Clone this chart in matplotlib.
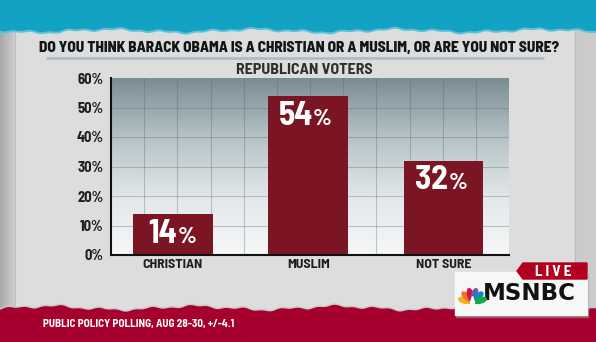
import numpy as np
import matplotlib
matplotlib.use("Agg")
import matplotlib.pyplot as plt
import matplotlib.patches as mpatches
from matplotlib.colors import LinearSegmentedColormap

# Data
categories = ["CHRISTIAN", "MUSLIM", "NOT SURE"]
shares = [14, 54, 32]
y_ticks = [0, 10, 20, 30, 40, 50, 60]

title = "DO YOU THINK BARACK OBAMA IS A CHRISTIAN OR A MUSLIM, OR ARE YOU NOT SURE?"
subtitle = "REPUBLICAN VOTERS"
source = "PUBLIC POLICY POLLING, AUG 28-30, +/-4.1"

COND = ["Barlow Semi Condensed", "Roboto Condensed", "Archivo Narrow", "PT Sans Narrow", "DejaVu Sans"]
W, H = 596, 342

fig = plt.figure(figsize=(W / 100, H / 100), dpi=100)
fig.patch.set_facecolor("#d4d4d4")

# background layer in pixel coordinates
bg = fig.add_axes([0, 0, 1, 1], zorder=0)
bg.set_xlim(0, W)
bg.set_ylim(H, 0)
bg.axis("off")

# side strips and panel
side = np.linspace(0, 1, 64)[None, :]
bg.imshow(side, extent=(0, 15, H, 0), cmap=LinearSegmentedColormap.from_list("s", ["#a9a9a9", "#cdcdcd"]),
          aspect="auto", zorder=0)
bg.add_patch(mpatches.Rectangle((15, 0), 560, H, color="#dddddd", zorder=1))
bg.add_patch(mpatches.Rectangle((575, 0), 21, H, color="#cbcbcb", zorder=1))
bg.plot([15, 15], [0, H], color="#bdbdbd", lw=0.8, zorder=2)
bg.plot([575, 575], [0, H], color="#bdbdbd", lw=0.8, zorder=2)


def torn(x, base, amp):
    # ragged paper edge
    return (base + amp * (0.5 * np.sin(x / 23.0) + 0.3 * np.sin(x / 7.3 + 1.1)
                          + 0.2 * np.sin(x / 2.9 + 0.4)))


xs = np.linspace(0, W, 400)

# top teal band
top_edge = torn(xs, 29, 3.0)
bg.fill_between(xs, 0, top_edge + 2, color="#5fc0d8", zorder=3)
bg.fill_between(xs, 0, top_edge, color="#12a2c3", zorder=3)

# bottom crimson band
bot_edge = torn(xs + 60, 309, 3.5)
bg.fill_between(xs, bot_edge - 1.5, H, color="#c9c9c9", zorder=3)
bg.fill_between(xs, bot_edge, H, color="#a6002f", zorder=3)

# title, rule and subtitle
bg.text(299, 48, title, family=COND, weight="heavy", fontsize=11.0,
        color="#151515", ha="center", va="center", zorder=5)
bg.plot([46, 544], [58, 58], color="#a9bac6", lw=1.8, zorder=5, solid_capstyle="butt")
bg.text(304, 70, subtitle, family=COND, weight="bold", fontsize=11.5,
        color="#2e2e2e", ha="center", va="center", zorder=5)
bg.text(43, 324.5, source, family=COND, weight="bold", fontsize=8,
        color="white", ha="left", va="center", zorder=5)

# chart
left, right, top, bottom = 111, 509, 78, 255
ax = fig.add_axes([left / W, (H - bottom) / H, (right - left) / W, (bottom - top) / H], zorder=1)
ax.set_facecolor("none")
x = np.arange(len(categories))
xlim = (-0.458, 2.484)
ax.set_xlim(*xlim)
ax.set_ylim(0, 60)

grad = np.linspace(1, 0, 256)[:, None]
cmap = LinearSegmentedColormap.from_list("g", ["#f6f7f8", "#e2e7e9", "#b5c2c6", "#7a8d94"])
ax.imshow(grad, extent=(xlim[0], xlim[1], 0, 60), aspect="auto", cmap=cmap, zorder=0)

for gx in np.linspace(xlim[0], xlim[1], 13)[1:-1]:
    ax.axvline(gx, color="#52666d", alpha=0.33, lw=0.8, zorder=1)
for gy in y_ticks[1:-1]:
    ax.axhline(gy, color="#52666d", alpha=0.33, lw=0.8, zorder=1)

ax.bar(x, shares, width=0.59, color="#7b1523", zorder=2)

for xi, v in zip(x, shares):
    ax.annotate(f"{v}", (xi, v), xytext=(3.2, -20.8), textcoords="offset points",
                ha="right", va="baseline", family=COND, weight="bold",
                fontsize=24, color="white", zorder=3)
    ax.annotate("%", (xi, v), xytext=(3.6, -20.8), textcoords="offset points",
                ha="left", va="baseline", family=COND, weight="bold",
                fontsize=17, color="white", zorder=3)

for s in ["top", "right"]:
    ax.spines[s].set_visible(False)
for s in ["left", "bottom"]:
    ax.spines[s].set_color("#111111")
    ax.spines[s].set_linewidth(1.5)
    ax.spines[s].set_zorder(4)

ax.set_yticks(y_ticks)
ax.set_yticklabels([f"{t}%" for t in y_ticks], family=COND, weight="bold", fontsize=10.5, color="#1e1e1e")
ax.set_xticks(x)
ax.set_xticklabels(categories, family=COND, weight="bold", fontsize=10, color="#1e1e1e")
ax.tick_params(axis="both", length=0)
ax.tick_params(axis="y", pad=5.5)
ax.tick_params(axis="x", pad=3)

# channel bug
ov = fig.add_axes([0, 0, 1, 1], zorder=2)
ov.set_xlim(0, W)
ov.set_ylim(H, 0)
ov.axis("off")
ov.patch.set_alpha(0)

ov.add_patch(mpatches.Rectangle((456, 273.5), 132, 43, color="#9a9a9a", alpha=0.5, zorder=1))
ov.add_patch(mpatches.Rectangle((455, 272), 132, 43, color="#f7f7f7", zorder=2))
ov.add_patch(mpatches.Polygon([[523, 263], [587, 263], [587, 279], [523, 279], [517, 271]],
                              closed=True, color="#b3001f", zorder=3))
ov.text(553, 271.5, "L I V E", family=COND, weight="bold", fontsize=11, color="white",
        ha="center", va="center", zorder=4)
ov.text(529, 294, "MSNBC", family="DejaVu Sans", weight="bold", fontsize=16.5, color="#111111",
        ha="center", va="center", zorder=4)

# peacock feathers
feather_colors = ["#f7b21b", "#f2701f", "#d2104a", "#6a5aa6", "#0a8acb", "#17a84a"]
cx, cy = 472.5, 302.5
for i, c in enumerate(feather_colors):
    a = np.deg2rad(165 - i * 30)
    r = 8.0
    fx, fy = cx + r * np.cos(a), cy - r * np.sin(a)
    theta = np.rad2deg(np.arctan2(-np.cos(a), -np.sin(a)))
    ov.add_patch(mpatches.Ellipse((fx, fy), 5.4, 12.5, angle=theta, color=c, zorder=4))
ov.add_patch(mpatches.Polygon([[cx - 2.2, cy + 0.5], [cx + 2.2, cy + 0.5], [cx, cy - 6]],
                              closed=True, color="white", zorder=5))

fig.savefig("out.png", dpi=100, facecolor=fig.get_facecolor())
